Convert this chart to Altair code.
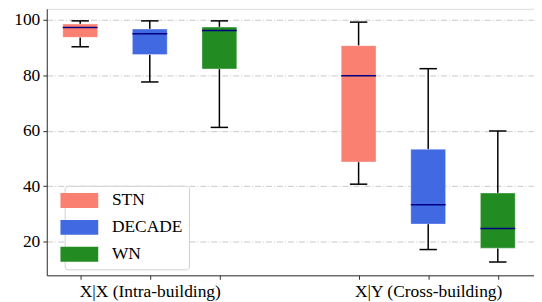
import altair as alt
import pandas as pd

methods = ["STN", "DECADE", "WN", "STN", "DECADE", "WN"]
positions = [0, 1, 2, 4, 5, 6]
whisk_lo = [90.3, 77.6, 61.2, 40.7, 17.1, 12.6]
q1 = [93.7, 87.5, 82.3, 48.7, 26.3, 17.6]
median = [97.3, 95.0, 96.2, 79.8, 33.3, 24.7]
q3 = [98.5, 96.7, 97.4, 90.7, 53.3, 37.5]
whisk_hi = [99.65, 99.65, 99.65, 99.2, 82.4, 59.9]

legend_order = ["STN", "DECADE", "WN"]
colors = ["#FA8072", "#4169E1", "#228B22"]
tick_labels = {1: "X|X (Intra-building)", 5: "X|Y (Cross-building)"}

df = pd.DataFrame({
    "method": methods, "pos": positions, "lo": whisk_lo, "q1": q1,
    "med": median, "q3": q3, "hi": whisk_hi,
})
df["left"] = df["pos"] - 0.25
df["right"] = df["pos"] + 0.25
df["cl"] = df["pos"] - 0.125
df["cr"] = df["pos"] + 0.125

FONT = "Liberation Serif"
FS = 17.5
xscale = alt.Scale(domain=[-0.48, 6.52], nice=False, zero=False)
yscale = alt.Scale(domain=[7.8, 104], nice=False, zero=False)

label_expr = "datum.value == 1 ? '%s' : (datum.value == 5 ? '%s' : '')" % (tick_labels[1], tick_labels[5])

base = alt.Chart(df)

xaxis = alt.Axis(values=positions, labelExpr=label_expr, grid=False, title=None,
                 labelFont=FONT, labelFontSize=FS)
yaxis = alt.Axis(values=[20, 40, 60, 80, 100], title=None, grid=True,
                 gridColor="#c8c8c8", gridDash=[6, 2, 1, 2], gridWidth=1,
                 minExtent=39, maxExtent=39, labelFont=FONT, labelFontSize=FS)

whisk_lo_rule = base.mark_rule(color="black", strokeWidth=1.5).encode(
    x=alt.X("pos:Q", scale=xscale, axis=xaxis),
    y=alt.Y("lo:Q", scale=yscale, axis=yaxis),
    y2="q1:Q",
)
whisk_hi_rule = base.mark_rule(color="black", strokeWidth=1.5).encode(
    x=alt.X("pos:Q", scale=xscale), y=alt.Y("q3:Q", scale=yscale), y2="hi:Q",
)
cap_lo = base.mark_rule(color="black", strokeWidth=1.5).encode(
    x=alt.X("cl:Q", scale=xscale), x2="cr:Q", y=alt.Y("lo:Q", scale=yscale),
)
cap_hi = base.mark_rule(color="black", strokeWidth=1.5).encode(
    x=alt.X("cl:Q", scale=xscale), x2="cr:Q", y=alt.Y("hi:Q", scale=yscale),
)
boxes = base.mark_bar(opacity=1, stroke="white", strokeOpacity=0.35, strokeWidth=1).encode(
    x=alt.X("left:Q", scale=xscale), x2="right:Q",
    y=alt.Y("q1:Q", scale=yscale), y2="q3:Q",
    color=alt.Color("method:N", scale=alt.Scale(domain=legend_order, range=colors),
                    legend=alt.Legend(title=None, orient="none", legendX=18, legendY=178,
                                      symbolType="M-2.533,-1H2.533V1H-2.533Z", symbolSize=225,
                                      symbolStrokeWidth=0, symbolOpacity=1,
                                      labelOffset=24, rowPadding=8, padding=6,
                                      labelFont=FONT, labelFontSize=FS,
                                      strokeColor="#d0d0d0", fillColor="white",
                                      cornerRadius=3)),
)
med = base.mark_rule(color="#000080", strokeWidth=1.5).encode(
    x=alt.X("left:Q", scale=xscale), x2="right:Q", y=alt.Y("med:Q", scale=yscale),
)

chart = alt.layer(whisk_lo_rule, whisk_hi_rule, cap_lo, cap_hi, boxes, med).properties(
    width=490, height=268, padding={"left": 0, "top": 0, "right": 0, "bottom": 0}
).configure_view(stroke="#333", strokeWidth=1).configure(
    background="white", font=FONT
).configure_text(font=FONT).configure_axis(
    labelFont=FONT, labelFontSize=FS, labelColor="#000", tickColor="#333",
    domainColor="#333", tickSize=4, labelPadding=3,
).configure_legend(
    labelFont=FONT, labelFontSize=FS, labelColor="#000",
)

chart.save("out.html", embed_options={"renderer": "svg", "actions": False})
